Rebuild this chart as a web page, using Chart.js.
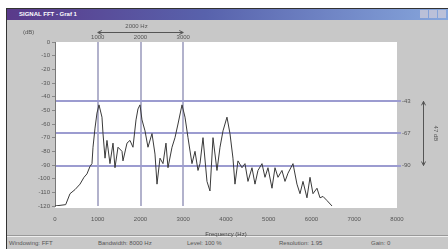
<!DOCTYPE html>
<html>
<head>
<meta charset="utf-8">
<script src="https://cdn.jsdelivr.net/npm/chart.js@4/dist/chart.umd.min.js"></script>
<style>
  html, body { margin: 0; padding: 0; background: #fff; }
  body { width: 448px; height: 249px; position: relative; overflow: hidden; font-family: "Liberation Sans", Arial, sans-serif; }
  .win { position: absolute; left: 6px; top: 8px; width: 442px; height: 241px; background: #c8c8c8; border-left: 1px solid #333; border-top: 1px solid #333; box-sizing: border-box; }
  .title { position: absolute; left: 0; top: 0; right: 0; height: 11px; background: linear-gradient(to right, #5a3a8a, #5862ac 45%, #86a6dc); color: #fff; font: bold 6px "Liberation Sans", Arial, sans-serif; line-height: 11px; padding-left: 12px; }
  .btns { position: absolute; right: 2px; top: 1px; height: 8px; width: 26px; display: flex; gap: 1px; }
  .btns span { flex: 1; background: #c8c8d8; opacity: .8; }
  .status { position: absolute; left: 0; right: 0; bottom: 0; height: 12px; border-top: 1px solid #eee; box-shadow: 0 -1px 0 #999; font: 6px "Liberation Sans", Arial, sans-serif; color: #555; line-height: 12px; }
  .status span { position: absolute; top: 0; }
  canvas { position: absolute; left: 0; top: 0; }
</style>
</head>
<body>
<div class="win">
  <div class="title">SIGNAL FFT - Graf 1<div class="btns"><span></span><span></span><span></span></div></div>
  <div class="status">
    <span style="left:2px">Windowing: FFT</span>
    <span style="left:91px">Bandwidth: 8000 Hz</span>
    <span style="left:180px">Level: 100 %</span>
    <span style="left:272px">Resolution: 1.95</span>
    <span style="left:364px">Gain: 0</span>
  </div>
</div>
<canvas id="c" width="448" height="249"></canvas>
<script>
// spectrum trace (Hz, dB)
const freqHz = [0, 250, 351, 468, 585, 678, 748, 819, 865, 889, 936, 982, 1029, 1099, 1123, 1170, 1216, 1286, 1357, 1403,
  1474, 1567, 1590, 1684, 1754, 1824, 1895, 1941, 1988, 2035, 2105, 2175, 2269, 2339, 2386, 2456, 2526, 2596, 2643, 2737,
  2807, 2877, 2971, 3041, 3111, 3204, 3275, 3345, 3392, 3462, 3555, 3625, 3696, 3789, 3860, 3930, 4023, 4093, 4163, 4210,
  4280, 4374, 4444, 4514, 4608, 4678, 4748, 4842, 4912, 4982, 5076, 5146, 5216, 5309, 5380, 5450, 5567, 5660, 5731, 5801,
  5894, 5965, 6035, 6128, 6199, 6269, 6362, 6480];
const levelDb = [-120, -119, -111, -108, -104, -99, -96.5, -91, -89, -77, -63, -52, -46, -55, -67, -85, -72, -89, -74, -92,
  -77, -80, -87, -74, -72, -77, -57, -49, -46, -57, -65, -77, -67, -82, -104, -85, -89, -74, -92, -77,
  -70, -60, -46, -55, -70, -89, -80, -94, -89, -70, -102, -109, -70, -94, -77, -65, -55, -67, -85, -104,
  -87, -92, -89, -102, -92, -104, -94, -89, -99, -92, -107, -92, -99, -94, -102, -96, -89, -104, -111, -102,
  -114, -99, -111, -107, -114, -113, -116, -120];

const markerHz = [1000, 2000, 3000];
const markerDb = [-43.4, -66.9, -90.4];
const spanHzLabel = '2000 Hz';
const spanDbLabel = '47 dB';

const tickFont = { family: '"Liberation Sans", Arial, sans-serif', size: 6 };
const points = freqHz.map((f, i) => ({ x: f, y: levelDb[i] }));

const plotBg = {
  id: 'plotBg',
  beforeDraw(chart) {
    const { ctx, chartArea: a } = chart;
    ctx.save();
    ctx.fillStyle = '#fff';
    ctx.fillRect(a.left, a.top, a.right - a.left, a.bottom - a.top + 2);
    ctx.restore();
  },
  afterDraw(chart) {
    const { ctx } = chart;
    const x2 = chart.scales.x2, y2 = chart.scales.y2;
    ctx.save();
    ctx.strokeStyle = '#555';
    ctx.fillStyle = '#555';
    ctx.lineWidth = 1;
    ctx.font = '6px "Liberation Sans", Arial, sans-serif';
    // (dB) unit label
    ctx.textAlign = 'left';
    ctx.fillText('(dB)', 23, 34);
    // horizontal span arrow between first and last frequency markers
    const xa = x2.getPixelForValue(markerHz[0]), xb = x2.getPixelForValue(markerHz[markerHz.length - 1]);
    const ya = 32.5;
    ctx.beginPath();
    ctx.moveTo(xa, ya); ctx.lineTo(xb, ya);
    ctx.moveTo(xa + 4, ya - 2); ctx.lineTo(xa, ya); ctx.lineTo(xa + 4, ya + 2);
    ctx.moveTo(xb - 4, ya - 2); ctx.lineTo(xb, ya); ctx.lineTo(xb - 4, ya + 2);
    ctx.stroke();
    ctx.textAlign = 'center';
    ctx.fillText(spanHzLabel, (xa + xb) / 2 - 4, 28);
    // vertical span arrow between level markers
    const yt = y2.getPixelForValue(markerDb[0]), yb = y2.getPixelForValue(markerDb[markerDb.length - 1]);
    const xv = 423.5;
    ctx.beginPath();
    ctx.moveTo(xv, yt); ctx.lineTo(xv, yb);
    ctx.moveTo(xv - 2, yt + 4); ctx.lineTo(xv, yt); ctx.lineTo(xv + 2, yt + 4);
    ctx.moveTo(xv - 2, yb - 4); ctx.lineTo(xv, yb); ctx.lineTo(xv + 2, yb - 4);
    ctx.stroke();
    ctx.translate(437, (yt + yb) / 2);
    ctx.rotate(Math.PI / 2);
    ctx.fillText(spanDbLabel, 0, 3);
    ctx.restore();
  }
};

new Chart(document.getElementById('c'), {
  type: 'line',
  data: {
    datasets: [{
      data: points,
      borderColor: '#3a3a3a',
      borderWidth: 1,
      pointRadius: 0,
      tension: 0,
      fill: false
    }]
  },
  options: {
    responsive: false,
    animation: false,
    layout: { padding: { left: 30, right: 29, top: 32, bottom: 11 } },
    plugins: { legend: { display: false }, tooltip: { enabled: false } },
    scales: {
      x: {
        type: 'linear', position: 'bottom', min: 0, max: 8000,
        afterFit: s => { s.height = 32; },
        ticks: { stepSize: 1000, font: tickFont, color: '#555', padding: 2, maxRotation: 0, callback: v => String(v) },
        grid: { display: false },
        border: { display: false },
        title: { display: true, text: 'Frequency (Hz)', font: { family: tickFont.family, size: 6 }, color: '#444', padding: { top: 5, bottom: 0 } }
      },
      x2: {
        type: 'linear', position: 'top', min: 0, max: 8000,
        afterFit: s => { s.height = 10; },
        afterBuildTicks: s => { s.ticks = markerHz.map(v => ({ value: v })); },
        ticks: { font: tickFont, color: '#555', padding: 1, maxRotation: 0, callback: v => String(v) },
        grid: { color: '#b2b2cc', lineWidth: 2, drawTicks: false },
        border: { display: false }
      },
      y: {
        position: 'left', min: -120, max: 0,
        afterFit: s => { s.width = 25; },
        ticks: { stepSize: 10, font: tickFont, color: '#555', padding: 2 },
        grid: { drawOnChartArea: false, tickLength: 3, color: '#888' },
        border: { display: true, color: '#777' }
      },
      y2: {
        position: 'right', min: -120, max: 0,
        afterFit: s => { s.width = 22; },
        afterBuildTicks: s => { s.ticks = markerDb.map(v => ({ value: v })); },
        ticks: { font: tickFont, color: '#555', padding: 1, callback: v => Math.round(v) },
        grid: { color: '#9c9cd0', lineWidth: 2, tickLength: 4 },
        border: { display: false }
      }
    }
  },
  plugins: [plotBg]
});
</script>
</body>
</html>
